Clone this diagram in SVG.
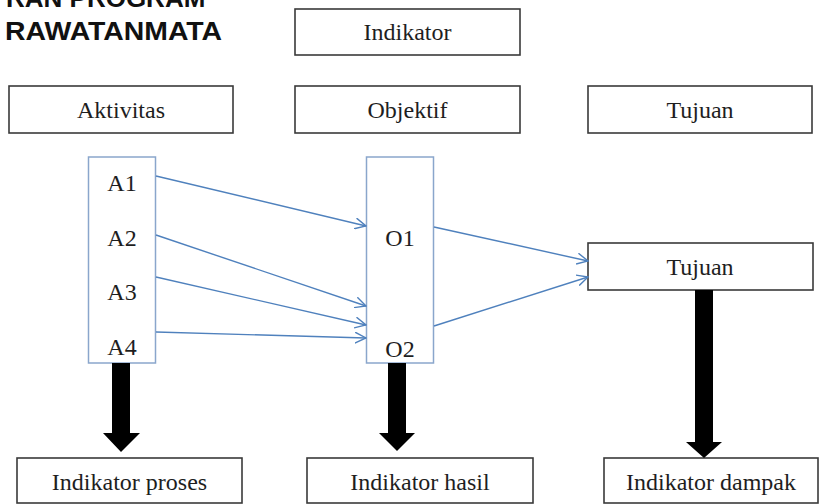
<svg xmlns="http://www.w3.org/2000/svg" width="820" height="504" viewBox="0 0 820 504">
<defs>
<style>
.box{fill:#fff;stroke:#3a3a3a;stroke-width:1.6}
.col{fill:#fff;stroke:#8aa6cc;stroke-width:1.5}
.lbl{font-family:"Liberation Serif","Times New Roman",serif;font-size:24px;fill:#1e1e1e;text-anchor:middle}
.title{font-family:"Liberation Sans",Arial,sans-serif;font-weight:bold;font-size:26px;fill:#111}
.conn{stroke:#4f81bd;stroke-width:1.4;fill:none;marker-end:url(#chev)}
.big{fill:#000}
</style>
<marker id="chev" viewBox="0 0 12 12" refX="11" refY="6" markerWidth="12" markerHeight="12" markerUnits="userSpaceOnUse" orient="auto">
<path d="M0,0.5 L11,6 L0,11.5" fill="none" stroke="#4f81bd" stroke-width="1.4"/>
</marker>
</defs>
<rect width="820" height="504" fill="#fff"/>
<text class="title" x="6" y="7">RAN PROGRAM</text>
<text class="title" x="5" y="40" textLength="217" lengthAdjust="spacingAndGlyphs">RAWATANMATA</text>
<g id="indikator"><rect class="box" x="295" y="9" width="225" height="46"/><text class="lbl" x="407.5" y="40">Indikator</text></g>
<g id="aktivitas"><rect class="box" x="9" y="86" width="224" height="47"/><text class="lbl" x="121" y="118">Aktivitas</text></g>
<g id="objektif"><rect class="box" x="295" y="86" width="225" height="47"/><text class="lbl" x="407.5" y="118">Objektif</text></g>
<g id="tujuan-top"><rect class="box" x="588" y="86" width="224" height="47"/><text class="lbl" x="700" y="118">Tujuan</text></g>
<g id="col-a"><rect class="col" x="88.5" y="157" width="67" height="206"/>
<text class="lbl" x="122" y="191">A1</text><text class="lbl" x="122" y="246">A2</text><text class="lbl" x="122" y="300">A3</text><text class="lbl" x="122" y="355">A4</text></g>
<g id="col-o"><rect class="col" x="366.5" y="157" width="67" height="206"/>
<text class="lbl" x="400" y="246">O1</text><text class="lbl" x="400" y="357">O2</text></g>
<g id="tujuan-mid"><rect class="box" x="588" y="243" width="225" height="47"/><text class="lbl" x="700" y="275">Tujuan</text></g>
<g id="ind-proses"><rect class="box" x="17" y="458" width="225" height="45"/><text class="lbl" x="129.5" y="490">Indikator proses</text></g>
<g id="ind-hasil"><rect class="box" x="307" y="458" width="226" height="45"/><text class="lbl" x="420" y="490">Indikator hasil</text></g>
<g id="ind-dampak"><rect class="box" x="604" y="458" width="214" height="45"/><text class="lbl" x="711" y="490">Indikator dampak</text></g>
<g id="connectors">
<line class="conn" x1="156" y1="176" x2="366" y2="226"/>
<line class="conn" x1="156" y1="235" x2="366" y2="306"/>
<line class="conn" x1="156" y1="277" x2="366" y2="325"/>
<line class="conn" x1="156" y1="332" x2="366" y2="338"/>
<line class="conn" x1="434" y1="227" x2="588" y2="261"/>
<line class="conn" x1="434" y1="326" x2="588" y2="277"/>
<polygon class="big" points="112,363 130,363 130,433 140,433 121,452 103,433 112,433"/>
<polygon class="big" points="388,363 406,363 406,433 415,433 397,451 379,433 388,433"/>
<polygon class="big" points="695,290 713,290 713,442 722,442 704,458 686,442 695,442"/>
</g>
</svg>
